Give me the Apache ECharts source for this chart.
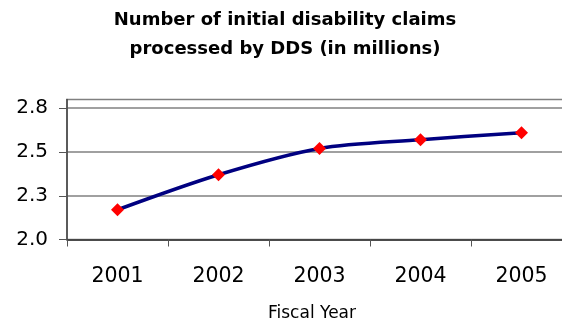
<!DOCTYPE html>
<html>
<head>
<meta charset="utf-8">
<script src="https://cdn.jsdelivr.net/npm/echarts@6/dist/echarts.min.js"></script>
<style>
  html, body { margin: 0; padding: 0; background: #fff; }
  #chart { width: 562px; height: 326px; }
</style>
</head>
<body>
<div id="chart"></div>
<script>
// Initial disability claims processed by DDS, in millions, by fiscal year
const years = ['2001', '2002', '2003', '2004', '2005'];
const claims = [2.17, 2.37, 2.52, 2.57, 2.61];
const yTicks = [2.0, 2.25, 2.5, 2.75];

const FONT = '"DejaVu Sans", Verdana, sans-serif';

const chart = echarts.init(document.getElementById('chart'), null, { renderer: 'canvas' });

chart.setOption({
  animation: false,
  backgroundColor: '#ffffff',
  title: [
    {
      text: 'Number of initial disability claims\nprocessed by DDS (in millions)',
      left: 280,
      top: 0.5,
      textAlign: 'center',
      textStyle: {
        fontFamily: FONT,
        fontSize: 18,
        fontWeight: 'bold',
        color: '#000',
        lineHeight: 29
      }
    },
    {
      text: 'Fiscal Year',
      left: 307,
      top: 300,
      textAlign: 'center',
      textStyle: {
        fontFamily: FONT,
        fontSize: 17,
        fontWeight: 'normal',
        color: '#000'
      }
    }
  ],
  grid: {
    left: 67,
    top: 99.5,
    width: 505,
    bottom: 86.5,
    containLabel: false,
    outerBoundsMode: 'none',
    show: true,
    borderColor: '#808080',
    borderWidth: 1.5,
    backgroundColor: 'transparent'
  },
  xAxis: {
    type: 'category',
    data: years,
    boundaryGap: true,
    axisLine: { show: true, lineStyle: { color: '#333', width: 1.5 } },
    axisTick: { show: true, length: 7, lineStyle: { color: '#555', width: 1 } },
    axisLabel: {
      margin: 27,
      fontFamily: FONT,
      fontSize: 20.5,
      color: '#000'
    },
    splitLine: { show: false }
  },
  yAxis: {
    type: 'value',
    min: 2.0,
    max: 2.8,
    interval: 0.25,
    axisLine: { show: true, lineStyle: { color: '#444', width: 1.5 } },
    axisTick: { show: true, length: 8, customValues: yTicks, lineStyle: { color: '#555', width: 1 } },
    axisLabel: {
      customValues: yTicks,
      margin: 19,
      fontFamily: FONT,
      fontSize: 20,
      color: '#000',
      formatter: v => v.toFixed(1)
    },
    splitLine: { show: true, lineStyle: { color: '#808080', width: 1.5 } }
  },
  series: [
    {
      type: 'line',
      data: claims,
      smooth: 0.3,
      lineStyle: { color: '#000080', width: 3.5 },
      symbol: 'diamond',
      symbolSize: 13,
      itemStyle: { color: '#ff0000' },
      z: 3
    }
  ]
});
</script>
</body>
</html>
